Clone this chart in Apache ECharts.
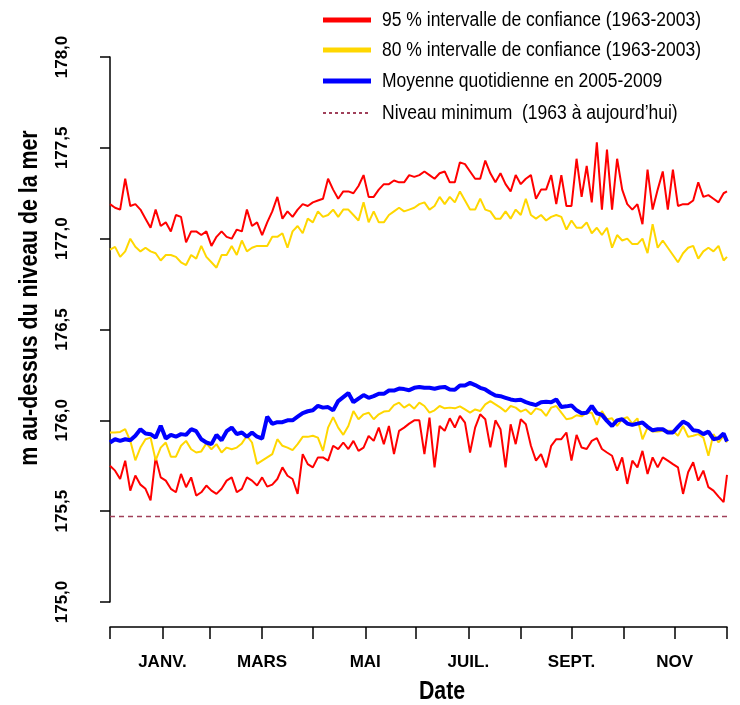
<!DOCTYPE html>
<html><head><meta charset="utf-8">
<script src="https://cdn.jsdelivr.net/npm/echarts@6/dist/echarts.min.js"></script>
<style>html,body{margin:0;padding:0;background:#fff}#c{width:740px;height:705px}</style>
</head><body><div id="c"></div>
<script>
// sampled day-of-year (every 3 days, plus Dec 31)
const days = [];
for (let d = 0; d <= 363; d += 3) days.push(d);
days.push(365);

const red95Upper = [
177.19,177.17,177.16,177.33,177.18,177.19,177.16,177.11,177.06,177.16,177.07,177.09,177.04,177.13,177.12,176.98,177.04,177.04,177.02,177.04,176.96,177.01,177.04,177.01,177.00,177.05,177.04,177.16,177.07,177.09,
177.02,177.09,177.15,177.23,177.11,177.15,177.12,177.16,177.19,177.18,177.20,177.21,177.22,177.33,177.27,177.22,177.26,177.26,177.25,177.29,177.35,177.23,177.23,177.27,177.30,177.30,177.32,177.31,177.31,
177.35,177.34,177.35,177.37,177.35,177.33,177.36,177.37,177.31,177.31,177.42,177.41,177.37,177.33,177.33,177.43,177.36,177.31,177.36,177.30,177.26,177.35,177.30,177.33,177.35,177.22,177.27,177.27,177.35,177.19,177.35,177.18,
177.18,177.44,177.23,177.40,177.20,177.53,177.16,177.49,177.16,177.44,177.27,177.19,177.16,177.19,177.08,177.38,177.16,177.27,177.37,177.16,177.38,177.18,177.19,177.19,177.21,177.31,177.23,177.24,177.22,177.20,177.25,177.26];

const yellow80Upper = [
176.94,176.955,176.90,176.93,177.00,176.955,176.93,176.95,176.93,176.92,176.88,176.91,176.91,176.90,176.87,176.855,176.91,176.89,176.96,176.90,176.87,176.84,176.91,176.91,176.96,176.91,176.99,176.93,176.95,176.96,
176.96,176.96,177.01,177.01,177.03,176.95,177.04,177.07,177.03,177.11,177.09,177.15,177.12,177.13,177.16,177.12,177.16,177.16,177.13,177.10,177.20,177.09,177.15,177.09,177.09,177.13,177.15,177.17,177.15,
177.16,177.17,177.19,177.20,177.16,177.18,177.23,177.19,177.23,177.20,177.26,177.21,177.16,177.16,177.22,177.16,177.15,177.11,177.11,177.15,177.11,177.16,177.13,177.22,177.13,177.11,177.13,177.10,177.12,177.13,177.12,177.05,
177.10,177.06,177.06,177.09,177.03,177.06,177.02,177.06,176.95,177.02,176.99,177.00,176.97,176.97,177.00,176.92,177.08,176.95,176.99,176.95,176.91,176.87,176.92,176.95,176.96,176.89,176.93,176.95,176.93,176.96,176.88,176.90];

const dailyMean = [
175.878,175.896,175.887,175.896,175.89,175.915,175.951,175.927,175.924,175.905,175.97,175.90,175.92,175.91,175.924,175.92,175.951,175.94,175.896,175.878,175.869,175.92,175.89,175.94,175.96,175.924,175.933,175.91,175.933,175.91,
175.90,176.02,175.98,175.99,175.99,176.00,176.00,176.02,176.04,176.05,176.055,176.08,176.07,176.073,176.055,176.106,176.128,176.15,176.10,176.12,176.139,176.124,176.133,176.146,176.146,176.164,176.164,176.175,176.172,
176.166,176.179,176.184,176.179,176.179,176.174,176.181,176.184,176.17,176.168,176.192,176.192,176.206,176.194,176.179,176.17,176.152,176.137,176.133,176.124,176.115,176.11,176.113,176.10,176.091,176.084,176.099,176.102,176.099,176.115,176.073,176.077,
176.082,176.055,176.039,176.042,176.079,176.039,176.03,175.997,175.969,176.0,176.006,175.982,175.975,175.982,175.988,175.964,175.945,175.951,175.951,175.933,175.933,175.964,175.993,175.978,175.945,175.942,175.924,175.938,175.896,175.902,175.927,175.883];

const yellow80Lower = [
175.933,175.933,175.936,175.951,175.887,175.78,175.85,175.896,175.905,175.78,175.85,175.878,175.80,175.80,175.86,175.887,175.841,175.823,175.829,175.873,175.841,175.869,175.823,175.85,175.841,175.85,175.873,175.915,175.878,175.76,
175.778,175.796,175.814,175.896,175.86,175.85,175.836,175.869,175.909,175.909,175.915,175.905,175.832,175.96,176.018,175.96,175.92,175.969,176.051,176.006,176.033,176.042,176.006,176.033,176.048,176.051,176.084,176.097,176.07,
176.088,176.064,176.097,176.079,176.042,176.055,176.079,176.066,176.07,176.066,176.077,176.06,176.042,176.06,176.051,176.088,176.106,176.088,176.07,176.048,176.079,176.07,176.048,176.06,176.033,176.066,176.057,176.024,176.07,176.079,176.042,176.006,
176.011,176.028,176.022,176.042,176.042,175.975,176.051,176.006,176.011,175.969,176.006,176.018,175.982,176.011,175.896,175.96,175.938,175.938,175.942,175.942,175.942,175.915,175.969,175.909,175.915,175.924,175.905,175.805,175.924,175.878,175.915,175.878];

const red95Lower = [
175.75,175.723,175.677,175.778,175.613,175.696,175.646,175.623,175.559,175.796,175.686,175.668,175.623,175.604,175.705,175.632,175.686,175.586,175.604,175.641,175.613,175.595,175.623,175.668,175.686,175.604,175.623,175.686,175.668,175.641,
175.686,175.635,175.646,175.677,175.741,175.695,175.677,175.595,175.814,175.759,175.741,175.796,175.796,175.778,175.86,175.842,175.878,175.842,175.887,175.832,175.85,175.914,175.887,175.96,175.869,175.969,175.814,175.942,175.96,
175.982,176.0,176.0,175.814,176.015,175.741,175.969,175.942,176.011,175.96,176.024,175.987,175.823,175.96,176.033,176.006,175.851,176.0,175.951,175.741,175.978,175.869,176.006,175.978,175.86,175.778,175.814,175.741,175.86,175.896,175.896,175.933,
175.778,175.92,175.85,175.842,175.887,175.902,175.842,175.823,175.805,175.723,175.796,175.65,175.778,175.741,175.832,175.705,175.796,175.741,175.796,175.778,175.759,175.741,175.595,175.714,175.769,175.668,175.723,175.632,175.613,175.58,175.55,175.70];

const minLevel = 175.47;
const minLevelDays = [0, 365];

const monthTicks = [0,31,59,90,120,151,181,212,243,273,304,334,365];
const labelDays = [31,90,151,212,273,334];
const monthLabels = ['JANV.','MARS','MAI','JUIL.','SEPT.','NOV'];

const N95 = '95 % intervalle de confiance (1963-2003)';
const N80 = '80 % intervalle de confiance (1963-2003)';
const NMEAN = 'Moyenne quotidienne en 2005-2009';
const NMIN = 'Niveau minimum  (1963 à aujourd\u2019hui)';

const RED = '#ff0000', YEL = '#ffd700', BLUE = '#0000ff', MINC = '#a0405a';
const FONT = '"Liberation Sans", Arial, Helvetica, sans-serif';

const pair = arr => arr.map((v, i) => [days[i], v]);
function lineSeries(name, arr, color, width, z) {
  return { name, type: 'line', data: pair(arr), symbol: 'none', z,
    lineStyle: { color, width }, itemStyle: { color }, emphasis: { disabled: true } };
}

// legend drawn as graphic entries
const legendItems = [
  { name: N95, color: RED, width: 5, dash: null },
  { name: N80, color: YEL, width: 5, dash: null },
  { name: NMEAN, color: BLUE, width: 5, dash: null },
  { name: NMIN, color: MINC, width: 2, dash: [3, 3] }
];
const legendRowY = [20, 50, 81, 113];
const legendGraphics = [];
legendItems.forEach((it, i) => {
  legendGraphics.push({ type: 'line', shape: { x1: 323, y1: legendRowY[i], x2: 371, y2: legendRowY[i] },
    style: { stroke: it.color, lineWidth: it.width, lineDash: it.dash || null } });
  legendGraphics.push({ type: 'text', x: 382, y: legendRowY[i], scaleX: 0.875,
    style: { text: it.name, font: '20px ' + FONT, fill: '#000', align: 'left', verticalAlign: 'middle' } });
});

const chart = echarts.init(document.getElementById('c'), null, { renderer: 'canvas' });
chart.setOption({
  animation: false,
  backgroundColor: '#fff',
  grid: { left: 110, right: 13, top: 57, bottom: 103 },
  xAxis: {
    type: 'value', min: 0, max: 365, offset: 25,
    axisLine: { show: true, lineStyle: { color: '#000', width: 1.5 } },
    axisTick: { show: true, inside: false, length: 12, customValues: monthTicks, lineStyle: { color: '#000', width: 1.5 } },
    axisLabel: { customValues: labelDays, margin: 27, fontFamily: FONT, fontWeight: 'bold', fontSize: 17, color: '#000',
      formatter: v => monthLabels[labelDays.indexOf(Math.round(v))] || '' },
    splitLine: { show: false }
  },
  yAxis: {
    type: 'value', min: 175, max: 178, interval: 0.5, offset: 24,
    axisLine: { show: true, lineStyle: { color: '#000', width: 1.5 } },
    axisTick: { show: true, length: 10, lineStyle: { color: '#000', width: 1.5 } },
    axisLabel: { rotate: 90, margin: 15, fontFamily: FONT, fontWeight: 'bold', fontSize: 17, color: '#000',
      formatter: v => v.toFixed(1).replace('.', ',') },
    splitLine: { show: false }
  },
  graphic: [
    { type: 'text', x: 30, y: 298, rotation: Math.PI / 2, scaleX: 0.82,
      style: { text: 'm au-dessus du niveau de la mer', font: 'bold 26px ' + FONT, fill: '#000',
        align: 'center', verticalAlign: 'middle' } },
    { type: 'text', x: 442, y: 692, scaleX: 0.82,
      style: { text: 'Date', font: 'bold 26px ' + FONT, fill: '#000', align: 'center', verticalAlign: 'middle' } }
  ].concat(legendGraphics),
  series: [
    lineSeries(N95, red95Upper, RED, 2, 2),
    lineSeries(N95, red95Lower, RED, 2, 2),
    lineSeries(N80, yellow80Upper, YEL, 2, 3),
    lineSeries(N80, yellow80Lower, YEL, 2, 3),
    lineSeries(NMEAN, dailyMean, BLUE, 4, 4),
    { name: NMIN, type: 'line', symbol: 'none', z: 1, data: minLevelDays.map(d => [d, minLevel]),
      lineStyle: { color: MINC, width: 1.5, type: [5, 4] }, itemStyle: { color: MINC }, emphasis: { disabled: true } }
  ]
});
</script></body></html>
